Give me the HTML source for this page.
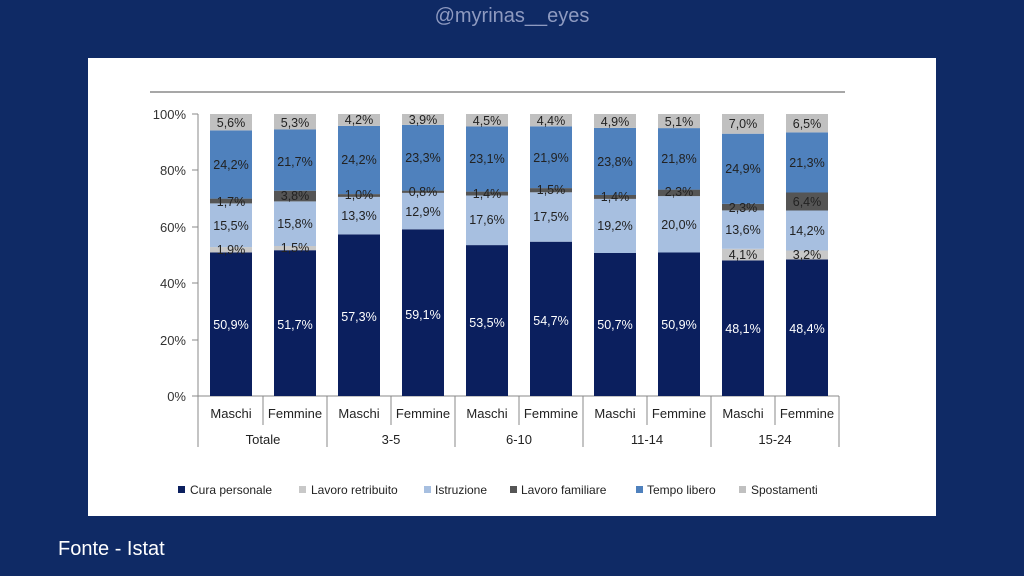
<!DOCTYPE html>
<html><head><meta charset="utf-8"><style>
html,body{margin:0;padding:0;width:1024px;height:576px;overflow:hidden;background:#0f2a65;}
svg{display:block}
</style></head><body>
<svg width="1024" height="576" xmlns="http://www.w3.org/2000/svg" font-family="Liberation Sans, sans-serif">
<rect width="1024" height="576" fill="#0f2a65"/>
<text x="512" y="22" text-anchor="middle" font-size="20" fill="#8e9ac0">@myrinas__eyes</text>
<text x="58" y="555" font-size="20" fill="#ffffff">Fonte - Istat</text>
<rect x="88" y="58" width="848" height="458" fill="#ffffff"/>
<line x1="150" y1="92" x2="845" y2="92" stroke="#8a8a8a" stroke-width="1.5"/>
<g font-size="13" fill="#333" text-anchor="end">
<text x="186" y="119">100%</text><text x="186" y="175">80%</text><text x="186" y="232">60%</text>
<text x="186" y="288">40%</text><text x="186" y="345">20%</text><text x="186" y="401">0%</text>
</g>
<g stroke="#888" stroke-width="1">
<line x1="198" y1="114" x2="198" y2="447"/>
<line x1="192" y1="114" x2="198" y2="114"/><line x1="192" y1="170" x2="198" y2="170"/><line x1="192" y1="227" x2="198" y2="227"/>
<line x1="192" y1="283" x2="198" y2="283"/><line x1="192" y1="340" x2="198" y2="340"/>
<line x1="192" y1="396" x2="839" y2="396"/>
<line x1="263" y1="396" x2="263" y2="425"/><line x1="391" y1="396" x2="391" y2="425"/><line x1="519" y1="396" x2="519" y2="425"/><line x1="647" y1="396" x2="647" y2="425"/><line x1="775" y1="396" x2="775" y2="425"/>
<line x1="327" y1="396" x2="327" y2="447"/><line x1="455" y1="396" x2="455" y2="447"/><line x1="583" y1="396" x2="583" y2="447"/><line x1="711" y1="396" x2="711" y2="447"/><line x1="839" y1="396" x2="839" y2="447"/>
</g>
<!-- bars -->
<g>
<!-- 1 -->
<rect x="210" y="252.5" width="42" height="143.5" fill="#0b1f5e"/><rect x="210" y="247.1" width="42" height="5.4" fill="#c8c8c8"/><rect x="210" y="203.4" width="42" height="43.7" fill="#a7bfe0"/><rect x="210" y="198.6" width="42" height="4.8" fill="#555"/><rect x="210" y="130.4" width="42" height="68.2" fill="#4f81bd"/><rect x="210" y="114" width="42" height="16.4" fill="#c0c0c0"/>
<!-- 2 -->
<rect x="274" y="250.2" width="42" height="145.8" fill="#0b1f5e"/><rect x="274" y="246" width="42" height="4.2" fill="#c8c8c8"/><rect x="274" y="201.4" width="42" height="44.6" fill="#a7bfe0"/><rect x="274" y="190.7" width="42" height="10.7" fill="#555"/><rect x="274" y="129.5" width="42" height="61.2" fill="#4f81bd"/><rect x="274" y="114" width="42" height="15.5" fill="#c0c0c0"/>
<!-- 3 -->
<rect x="338" y="234.4" width="42" height="161.6" fill="#0b1f5e"/><rect x="338" y="196.9" width="42" height="37.5" fill="#a7bfe0"/><rect x="338" y="194.1" width="42" height="2.8" fill="#555"/><rect x="338" y="125.9" width="42" height="68.2" fill="#4f81bd"/><rect x="338" y="114" width="42" height="11.9" fill="#c0c0c0"/>
<!-- 4 -->
<rect x="402" y="229.3" width="42" height="166.7" fill="#0b1f5e"/><rect x="402" y="192.9" width="42" height="36.4" fill="#a7bfe0"/><rect x="402" y="190.6" width="42" height="2.3" fill="#555"/><rect x="402" y="124.9" width="42" height="65.7" fill="#4f81bd"/><rect x="402" y="114" width="42" height="10.9" fill="#c0c0c0"/>
<!-- 5 -->
<rect x="466" y="245.1" width="42" height="150.9" fill="#0b1f5e"/><rect x="466" y="195.5" width="42" height="49.6" fill="#a7bfe0"/><rect x="466" y="191.6" width="42" height="3.9" fill="#555"/><rect x="466" y="126.5" width="42" height="65.1" fill="#4f81bd"/><rect x="466" y="114" width="42" height="12.5" fill="#c0c0c0"/>
<!-- 6 -->
<rect x="530" y="241.7" width="42" height="154.3" fill="#0b1f5e"/><rect x="530" y="192.3" width="42" height="49.4" fill="#a7bfe0"/><rect x="530" y="188.1" width="42" height="4.2" fill="#555"/><rect x="530" y="126.3" width="42" height="61.8" fill="#4f81bd"/><rect x="530" y="114" width="42" height="12.3" fill="#c0c0c0"/>
<!-- 7 -->
<rect x="594" y="253" width="42" height="143" fill="#0b1f5e"/><rect x="594" y="198.9" width="42" height="54.1" fill="#a7bfe0"/><rect x="594" y="195" width="42" height="3.9" fill="#555"/><rect x="594" y="127.9" width="42" height="67.1" fill="#4f81bd"/><rect x="594" y="114" width="42" height="13.9" fill="#c0c0c0"/>
<!-- 8 -->
<rect x="658" y="252.5" width="42" height="143.5" fill="#0b1f5e"/><rect x="658" y="196.1" width="42" height="56.4" fill="#a7bfe0"/><rect x="658" y="189.6" width="42" height="6.5" fill="#555"/><rect x="658" y="128.1" width="42" height="61.5" fill="#4f81bd"/><rect x="658" y="114" width="42" height="14.1" fill="#c0c0c0"/>
<!-- 9 -->
<rect x="722" y="260.4" width="42" height="135.6" fill="#0b1f5e"/><rect x="722" y="248.8" width="42" height="11.6" fill="#c8c8c8"/><rect x="722" y="210.4" width="42" height="38.4" fill="#a7bfe0"/><rect x="722" y="203.9" width="42" height="6.5" fill="#555"/><rect x="722" y="133.7" width="42" height="70.2" fill="#4f81bd"/><rect x="722" y="114" width="42" height="19.7" fill="#c0c0c0"/>
<!-- 10 -->
<rect x="786" y="259.5" width="42" height="136.5" fill="#0b1f5e"/><rect x="786" y="250.5" width="42" height="9" fill="#c8c8c8"/><rect x="786" y="210.5" width="42" height="40" fill="#a7bfe0"/><rect x="786" y="192.5" width="42" height="18" fill="#555"/><rect x="786" y="132.4" width="42" height="60.1" fill="#4f81bd"/><rect x="786" y="114" width="42" height="18.4" fill="#c0c0c0"/>
</g>
<g font-size="12.5" text-anchor="middle" fill="#ffffff">
<text x="231" y="329">50,9%</text><text x="295" y="329">51,7%</text><text x="359" y="321">57,3%</text><text x="423" y="319">59,1%</text><text x="487" y="327">53,5%</text><text x="551" y="325">54,7%</text><text x="615" y="329">50,7%</text><text x="679" y="329">50,9%</text><text x="743" y="333">48,1%</text><text x="807" y="333">48,4%</text>
</g>
<g font-size="12.5" text-anchor="middle" fill="#222">
<!-- 1 -->
<text x="231" y="127">5,6%</text><text x="231" y="169">24,2%</text><text x="231" y="206">1,7%</text><text x="231" y="230">15,5%</text><text x="231" y="254">1,9%</text>
<!-- 2 -->
<text x="295" y="127">5,3%</text><text x="295" y="166">21,7%</text><text x="295" y="200">3,8%</text><text x="295" y="228">15,8%</text><text x="295" y="252">1,5%</text>
<!-- 3 -->
<text x="359" y="124">4,2%</text><text x="359" y="164">24,2%</text><text x="359" y="199">1,0%</text><text x="359" y="220">13,3%</text>
<!-- 4 -->
<text x="423" y="124">3,9%</text><text x="423" y="162">23,3%</text><text x="423" y="196">0,8%</text><text x="423" y="216">12,9%</text>
<!-- 5 -->
<text x="487" y="125">4,5%</text><text x="487" y="163">23,1%</text><text x="487" y="198">1,4%</text><text x="487" y="224">17,6%</text>
<!-- 6 -->
<text x="551" y="125">4,4%</text><text x="551" y="162">21,9%</text><text x="551" y="194">1,5%</text><text x="551" y="221">17,5%</text>
<!-- 7 -->
<text x="615" y="126">4,9%</text><text x="615" y="166">23,8%</text><text x="615" y="201">1,4%</text><text x="615" y="230">19,2%</text>
<!-- 8 -->
<text x="679" y="126">5,1%</text><text x="679" y="163">21,8%</text><text x="679" y="196">2,3%</text><text x="679" y="229">20,0%</text>
<!-- 9 -->
<text x="743" y="128">7,0%</text><text x="743" y="173">24,9%</text><text x="743" y="212">2,3%</text><text x="743" y="234">13,6%</text><text x="743" y="259">4,1%</text>
<!-- 10 -->
<text x="807" y="128">6,5%</text><text x="807" y="167">21,3%</text><text x="807" y="206">6,4%</text><text x="807" y="235">14,2%</text><text x="807" y="259">3,2%</text>
</g>
<g font-size="13" text-anchor="middle" fill="#222">
<text x="231" y="418">Maschi</text><text x="295" y="418">Femmine</text><text x="359" y="418">Maschi</text><text x="423" y="418">Femmine</text><text x="487" y="418">Maschi</text><text x="551" y="418">Femmine</text><text x="615" y="418">Maschi</text><text x="679" y="418">Femmine</text><text x="743" y="418">Maschi</text><text x="807" y="418">Femmine</text>
<text x="263" y="444">Totale</text><text x="391" y="444">3-5</text><text x="519" y="444">6-10</text><text x="647" y="444">11-14</text><text x="775" y="444">15-24</text>
</g>
<g font-size="12" fill="#222">
<rect x="178" y="486" width="7" height="7" fill="#0b1f5e"/><text x="190" y="494">Cura personale</text>
<rect x="299" y="486" width="7" height="7" fill="#c8c8c8"/><text x="311" y="494">Lavoro retribuito</text>
<rect x="424" y="486" width="7" height="7" fill="#a7bfe0"/><text x="435" y="494">Istruzione</text>
<rect x="510" y="486" width="7" height="7" fill="#555"/><text x="521" y="494">Lavoro familiare</text>
<rect x="636" y="486" width="7" height="7" fill="#4f81bd"/><text x="647" y="494">Tempo libero</text>
<rect x="739" y="486" width="7" height="7" fill="#c0c0c0"/><text x="751" y="494">Spostamenti</text>
</g>
</svg>
</body></html>
